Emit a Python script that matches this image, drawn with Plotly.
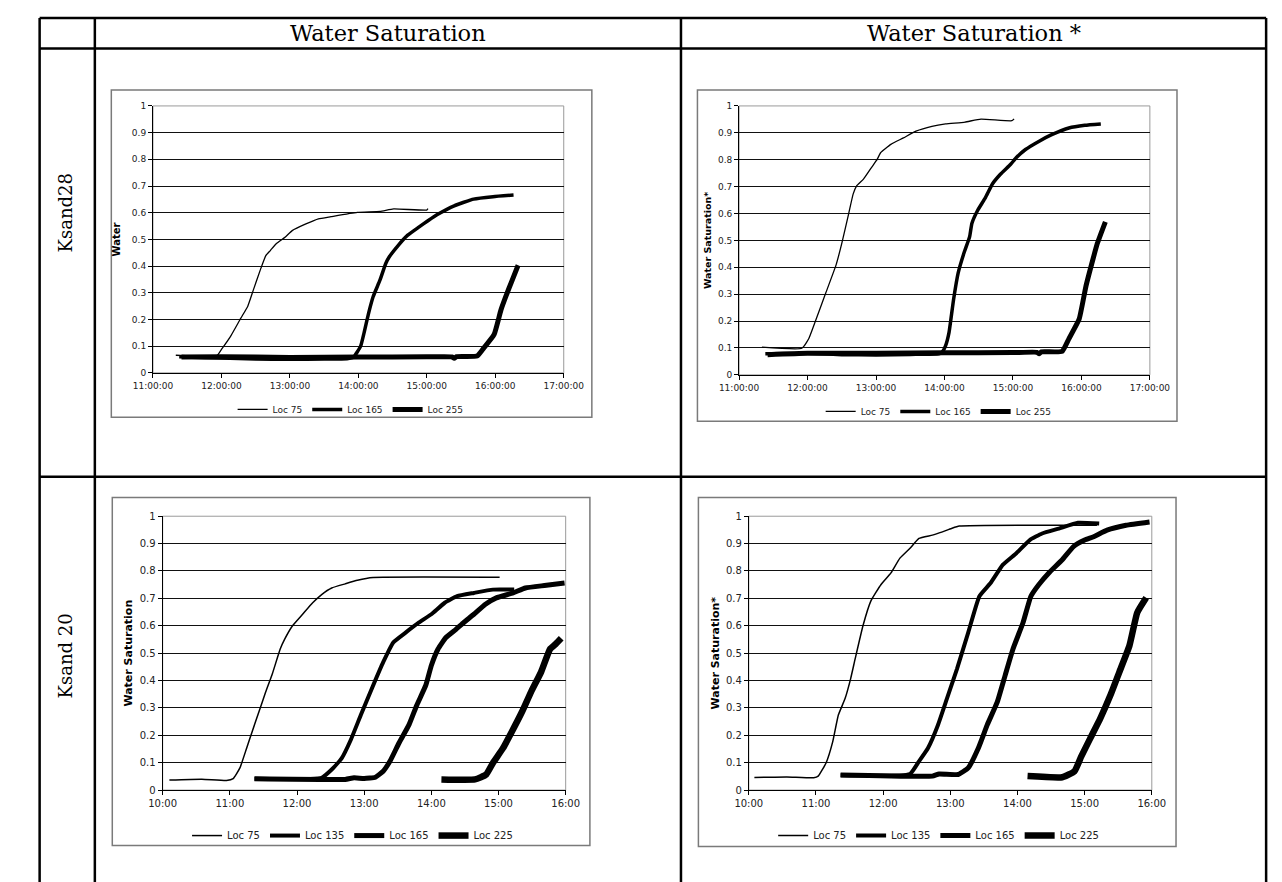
import plotly.graph_objects as go

W, H = 1282, 882
DAY = "2000-01-01 "

# ---------------- data ----------------
# Ksand28, Water Saturation
k28_sw_loc75_t = ["11:20","11:56","12:00","12:08","12:17","12:23","12:28","12:34","12:39","12:43","12:48","12:56","13:02","13:14","13:25","13:36","13:59","14:19","14:31","15:00","15:01"]
k28_sw_loc75_v = [0.066,0.065,0.088,0.137,0.205,0.249,0.311,0.385,0.44,0.459,0.484,0.509,0.533,0.558,0.577,0.585,0.601,0.605,0.614,0.61,0.615]
k28_sw_loc165_t = ["11:23","11:45","12:30","13:00","13:30","13:50","13:56","14:02","14:05","14:09","14:13","14:19","14:24","14:27","14:35","14:43","14:53","15:01","15:10","15:24","15:41","15:58","16:16"]
k28_sw_loc165_v = [0.06,0.057,0.052,0.051,0.052,0.053,0.06,0.1,0.15,0.224,0.286,0.348,0.41,0.434,0.478,0.515,0.546,0.57,0.595,0.626,0.651,0.66,0.666]
k28_sw_loc255_t = ["11:25","12:00","13:00","14:00","15:00","15:22","15:24","15:26","15:44","15:49","15:59","16:05","16:12","16:20"]
k28_sw_loc255_v = [0.059,0.06,0.058,0.059,0.06,0.06,0.055,0.061,0.063,0.088,0.144,0.236,0.317,0.403]

# Ksand28, Water Saturation *
k28_ss_loc75_t = ["11:20","11:55","12:01","12:07","12:16","12:25","12:30","12:36","12:40","12:43","12:49","12:56","13:01","13:04","13:13","13:24","13:35","13:49","14:01","14:18","14:32","14:59","15:01"]
k28_ss_loc75_v = [0.103,0.099,0.134,0.201,0.305,0.409,0.489,0.599,0.673,0.703,0.728,0.771,0.801,0.826,0.857,0.881,0.906,0.924,0.933,0.94,0.951,0.945,0.952]
k28_ss_loc165_t = ["11:23","12:00","12:30","13:00","13:30","13:55","13:58","14:01","14:04","14:08","14:12","14:17","14:22","14:24","14:29","14:36","14:42","14:49","14:58","15:03","15:11","15:23","15:34","15:49","16:03","16:17"]
k28_ss_loc165_v = [0.078,0.08,0.075,0.074,0.076,0.078,0.085,0.109,0.158,0.281,0.379,0.452,0.513,0.563,0.611,0.66,0.71,0.746,0.783,0.808,0.838,0.869,0.893,0.918,0.928,0.933]
k28_ss_loc255_t = ["11:25","12:00","13:00","14:00","15:00","15:21","15:23","15:25","15:43","15:49","15:58","16:04","16:10","16:14","16:21"]
k28_ss_loc255_v = [0.075,0.08,0.08,0.082,0.083,0.084,0.078,0.086,0.087,0.134,0.207,0.33,0.428,0.489,0.569]

# Ksand 20, Water Saturation
k20_sw_loc75_t = ["10:06","10:35","10:57","11:03","11:09","11:15","11:20","11:26","11:32","11:38","11:45","11:49","11:56","12:05","12:14","12:22","12:31","12:43","12:54","13:08","15:01"]
k20_sw_loc75_v = [0.037,0.04,0.035,0.042,0.081,0.153,0.214,0.286,0.358,0.425,0.515,0.551,0.6,0.642,0.684,0.714,0.738,0.753,0.766,0.776,0.777]
k20_sw_loc135_t = ["11:22","12:22","12:31","12:40","12:48","12:57","13:08","13:17","13:26","13:37","13:49","14:00","14:12","14:23","14:38","14:55","15:14"]
k20_sw_loc135_v = [0.041,0.045,0.075,0.117,0.183,0.274,0.382,0.467,0.539,0.575,0.612,0.642,0.684,0.708,0.72,0.732,0.732]
k20_sw_loc165_t = ["11:22","12:43","12:51","13:00","13:10","13:17","13:23","13:31","13:40","13:47","13:55","14:00","14:06","14:13","14:22","14:29","14:38","14:48","14:58","15:13","15:24","15:41","15:59"]
k20_sw_loc165_v = [0.041,0.039,0.045,0.042,0.047,0.069,0.105,0.171,0.238,0.31,0.382,0.455,0.515,0.557,0.587,0.612,0.642,0.678,0.702,0.72,0.738,0.747,0.756]
k20_sw_loc225_t = ["14:09","14:39","14:49","14:55","15:04","15:12","15:21","15:29","15:38","15:46","15:51","15:56"]
k20_sw_loc225_v = [0.039,0.039,0.057,0.099,0.153,0.214,0.286,0.358,0.431,0.515,0.533,0.554]

# Ksand 20, Water Saturation *
k20_ss_loc75_t = ["10:05","10:34","10:58","11:02","11:09","11:15","11:20","11:26","11:31","11:35","11:42","11:49","11:58","12:07","12:15","12:24","12:32","12:44","12:53","13:01","13:08","15:11"]
k20_ss_loc75_v = [0.046,0.048,0.045,0.051,0.099,0.177,0.274,0.334,0.407,0.479,0.6,0.69,0.75,0.793,0.847,0.883,0.919,0.931,0.943,0.955,0.964,0.967]
k20_ss_loc135_t = ["11:22","12:24","12:32","12:40","12:49","12:57","13:06","13:16","13:26","13:36","13:47","13:59","14:11","14:22","14:37","14:54","15:13"]
k20_ss_loc135_v = [0.054,0.059,0.105,0.153,0.238,0.334,0.443,0.575,0.708,0.756,0.823,0.865,0.913,0.937,0.955,0.976,0.973]
k20_ss_loc165_t = ["11:22","12:44","12:50","13:07","13:16","13:25","13:33","13:42","13:49","13:56","14:05","14:12","14:19","14:28","14:40","14:50","15:00","15:08","15:20","15:37","15:58"]
k20_ss_loc165_v = [0.055,0.051,0.059,0.057,0.081,0.153,0.238,0.322,0.419,0.515,0.612,0.708,0.75,0.793,0.841,0.889,0.913,0.925,0.949,0.967,0.979]
k20_ss_loc225_t = ["14:09","14:40","14:51","14:57","15:05","15:14","15:23","15:31","15:40","15:47","15:55"]
k20_ss_loc225_v = [0.051,0.047,0.069,0.123,0.189,0.262,0.346,0.431,0.527,0.648,0.702]

col_headers = ["Water Saturation", "Water Saturation *"]
row_headers = ["Ksand28", "Ksand 20"]
y_titles = ["Water", "Water Saturation*", "Water Saturation", "Water Saturation*"]
y_ticks = [0, 0.1, 0.2, 0.3, 0.4, 0.5, 0.6, 0.7, 0.8, 0.9, 1]

# ---------------- layout helpers ----------------
def fx(x):
    return x / W

def fy(y):
    return 1 - y / H

def t(s):
    return [DAY + v + ":00" for v in s]

SANS = "DejaVu Sans"
SERIF = "DejaVu Serif"

fig = go.Figure()

panels = [
    dict(ax="", plot=(129, 94, 553, 364), box=(86, 78, 582, 409), leg=(333, 401),
         series=[("Loc 75", k28_sw_loc75_t, k28_sw_loc75_v, 1.3),
                 ("Loc 165", k28_sw_loc165_t, k28_sw_loc165_v, 3.5),
                 ("Loc 255", k28_sw_loc255_t, k28_sw_loc255_v, 5)],
         xr=("11:00", "17:00"), fmt="%H:%M:%S", fs=9, tfs=10, title=y_titles[0], so=9),
    dict(ax="2", plot=(734, 94, 1158, 366), box=(691, 78, 1186, 413), leg=(940, 403),
         series=[("Loc 75", k28_ss_loc75_t, k28_ss_loc75_v, 1.3),
                 ("Loc 165", k28_ss_loc165_t, k28_ss_loc165_v, 3.5),
                 ("Loc 255", k28_ss_loc255_t, k28_ss_loc255_v, 5)],
         xr=("11:00", "17:00"), fmt="%H:%M:%S", fs=9, tfs=9.5, title=y_titles[1], so=4),
    dict(ax="3", plot=(139, 509, 555, 786), box=(87, 490, 580, 842), leg=(335, 832),
         series=[("Loc 75", k20_sw_loc75_t, k20_sw_loc75_v, 1.5),
                 ("Loc 135", k20_sw_loc135_t, k20_sw_loc135_v, 4),
                 ("Loc 165", k20_sw_loc165_t, k20_sw_loc165_v, 5),
                 ("Loc 225", k20_sw_loc225_t, k20_sw_loc225_v, 6.5)],
         xr=("10:00", "16:00"), fmt="%H:%M", fs=10, tfs=11, title=y_titles[2], so=4),
    dict(ax="4", plot=(744, 509, 1160, 786), box=(692, 490, 1185, 843), leg=(940, 832),
         series=[("Loc 75", k20_ss_loc75_t, k20_ss_loc75_v, 1.5),
                 ("Loc 135", k20_ss_loc135_t, k20_ss_loc135_v, 4),
                 ("Loc 165", k20_ss_loc165_t, k20_ss_loc165_v, 5),
                 ("Loc 225", k20_ss_loc225_t, k20_ss_loc225_v, 6.5)],
         xr=("10:00", "16:00"), fmt="%H:%M", fs=10, tfs=11, title=y_titles[3], so=4),
]

shapes = []
layout_upd = {}
for p in panels:
    ax = p["ax"]
    legname = "legend" + ax
    x0, y0, x1, y1 = p["plot"]
    for name, tt, vv, lw in p["series"]:
        fig.add_trace(go.Scatter(
            x=t(tt), y=vv, mode="lines", name=name,
            line=dict(color="black", width=lw, shape="spline", smoothing=0.4),
            xaxis="x" + ax, yaxis="y" + ax, legend=legname, showlegend=True,
        ))
    layout_upd["xaxis" + ax] = dict(
        domain=[fx(x0), fx(x1)], anchor="y" + ax, type="date",
        range=[DAY + p["xr"][0] + ":00", DAY + p["xr"][1] + ":00"],
        dtick=3600000, tick0=DAY + p["xr"][0] + ":00", tickformat=p["fmt"],
        showgrid=False, showline=True, linecolor="black", linewidth=1,
        ticks="outside", ticklen=4, tickcolor="black",
        tickfont=dict(family=SANS, size=p["fs"], color="#222"), zeroline=False,
    )
    layout_upd["yaxis" + ax] = dict(
        domain=[fy(y1), fy(y0)], anchor="x" + ax, range=[0, 1],
        tickvals=y_ticks, ticktext=[("%g" % v) for v in y_ticks],
        showgrid=True, gridcolor="#111", gridwidth=1,
        showline=True, linecolor="black", linewidth=1,
        ticks="outside", ticklen=4, tickcolor="black",
        tickfont=dict(family=SANS, size=p["fs"], color="#222"), zeroline=False,
        title=dict(text=p["title"], font=dict(family=SANS, size=p["tfs"], color="black", weight="bold"),
                   standoff=p["so"]),
    )
    lx, ly = p["leg"]
    layout_upd[legname] = dict(
        orientation="h", x=fx(lx), y=fy(ly), xanchor="center", yanchor="middle",
        font=dict(family=SANS, size=p["fs"], color="#222"),
        itemwidth=30, tracegroupgap=0, bgcolor="rgba(0,0,0,0)",
        traceorder="normal",
    )
    shapes.append(dict(type="rect", xref="x" + ax + " domain", yref="y" + ax + " domain",
                       x0=0, y0=0, x1=1, y1=1, line=dict(color="#9a9a9a", width=1), layer="below"))
    bx0, by0, bx1, by1 = p["box"]
    shapes.append(dict(type="rect", xref="paper", yref="paper",
                       x0=fx(bx0), y0=fy(by1), x1=fx(bx1), y1=fy(by0),
                       line=dict(color="#7a7a7a", width=1.5), layer="below"))

# table lines
TL = dict(color="black", width=2.5)
for xv in (12, 69, 674, 1278):
    shapes.append(dict(type="line", xref="paper", yref="paper", x0=fx(xv), x1=fx(xv), y0=fy(5), y1=fy(882), line=TL))
for yv in (5, 36, 469):
    shapes.append(dict(type="line", xref="paper", yref="paper", x0=fx(12), x1=fx(1278), y0=fy(yv), y1=fy(yv), line=TL))

annotations = []
for txt, cx in zip(col_headers, (371.5, 976)):
    annotations.append(dict(text=txt, x=fx(cx), y=fy(20.5), xref="paper", yref="paper",
                            showarrow=False, xanchor="center", yanchor="middle",
                            font=dict(family=SERIF, size=22.5, color="black")))
for txt, cy in zip(row_headers, (202, 650)):
    annotations.append(dict(text=txt, x=fx(39), y=fy(cy), xref="paper", yref="paper",
                            showarrow=False, xanchor="center", yanchor="middle", textangle=-90,
                            font=dict(family=SERIF, size=18, color="black")))

fig.update_layout(
    width=W, height=H, margin=dict(l=0, r=0, t=0, b=0),
    paper_bgcolor="white", plot_bgcolor="white",
    shapes=shapes, annotations=annotations, **layout_upd,
)

fig.write_html("out.html")
